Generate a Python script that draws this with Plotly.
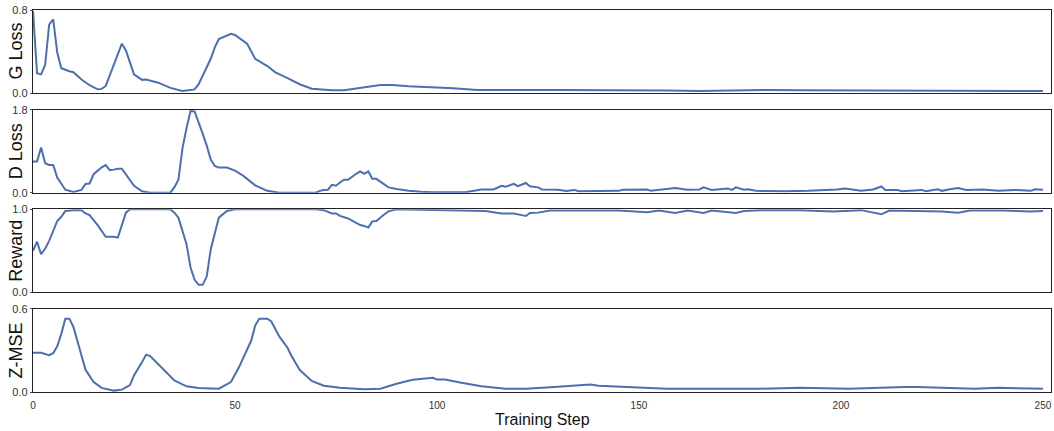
import plotly.graph_objects as go
from plotly.subplots import make_subplots

# ---------------- data ----------------
g_steps = [0, 1, 2, 3, 4, 5, 6, 7, 9, 10, 12, 14, 16, 17, 18, 20, 22, 23, 25, 27,
           28, 31, 34, 37, 40, 41, 44, 45, 46, 49, 50, 53, 55, 58, 60, 63, 66, 69, 74, 77,
           80, 83, 86, 89, 93, 97, 99, 104, 110, 117, 124, 130, 138, 148, 157, 165, 173, 182, 190, 200,
           210, 220, 230, 240, 250]
g_loss = [0.79, 0.19, 0.18, 0.27, 0.66, 0.71, 0.39, 0.24, 0.21, 0.20, 0.13, 0.075, 0.036, 0.04, 0.068, 0.28, 0.475, 0.41, 0.18, 0.127,
          0.13, 0.10, 0.05, 0.02, 0.035, 0.085, 0.33, 0.44, 0.52, 0.57, 0.56, 0.475, 0.33, 0.26, 0.20, 0.143, 0.085, 0.042, 0.026, 0.026,
          0.04, 0.06, 0.078, 0.078, 0.065, 0.058, 0.058, 0.045, 0.029, 0.026, 0.03, 0.03, 0.03, 0.026, 0.025, 0.02, 0.025, 0.03, 0.027, 0.026,
          0.024, 0.024, 0.022, 0.022, 0.02]

d_steps = [0, 1, 2, 3, 4, 5, 6, 8, 10, 11, 12, 13, 14, 15, 16, 17, 18, 19, 20, 21,
           22, 23, 25, 27, 29, 34, 35, 36, 37, 38, 39, 40, 41, 42, 43, 44, 45, 46, 48, 50,
           52, 55, 58, 61, 70, 71, 72, 73, 74, 75, 76, 77, 78, 79, 80, 81, 82, 83, 84, 85,
           87, 88, 90, 93, 96, 99, 107, 109, 111, 114, 116, 117, 119, 120, 122, 123, 125, 126, 130, 132,
           134, 135, 140, 145, 146, 152, 153, 155, 159, 162, 165, 166, 168, 172, 173, 174, 176, 177, 179, 186,
           192, 199, 201, 205, 208, 210, 211, 214, 215, 220, 221, 224, 225, 227, 229, 231, 235, 239, 243, 247,
           248, 250]
d_loss = [0.675, 0.675, 0.98, 0.64, 0.60, 0.60, 0.33, 0.065, 0.015, 0.03, 0.06, 0.19, 0.20, 0.40, 0.48, 0.55, 0.60, 0.49, 0.50, 0.52,
          0.52, 0.40, 0.15, 0.03, 0.0, 0.0, 0.12, 0.28, 0.96, 1.40, 1.77, 1.76, 1.54, 1.28, 1.02, 0.72, 0.58, 0.545, 0.545, 0.48,
          0.37, 0.16, 0.04, 0.0, 0.0, 0.04, 0.06, 0.065, 0.17, 0.15, 0.22, 0.28, 0.28, 0.35, 0.41, 0.46, 0.41, 0.46, 0.30, 0.30,
          0.17, 0.115, 0.08, 0.04, 0.02, 0.01, 0.01, 0.04, 0.07, 0.07, 0.15, 0.13, 0.19, 0.14, 0.21, 0.14, 0.115, 0.07, 0.065, 0.035,
          0.06, 0.03, 0.04, 0.04, 0.065, 0.07, 0.04, 0.065, 0.10, 0.065, 0.07, 0.115, 0.06, 0.09, 0.06, 0.115, 0.065, 0.075, 0.04, 0.03,
          0.04, 0.07, 0.09, 0.04, 0.07, 0.135, 0.06, 0.06, 0.03, 0.06, 0.03, 0.075, 0.04, 0.075, 0.10, 0.06, 0.07, 0.04, 0.06, 0.04,
          0.075, 0.065]

r_steps = [0, 1, 2, 3, 4, 5, 6, 7, 8, 10, 12, 13, 14, 16, 18, 20, 21, 23, 24, 34,
           35, 36, 38, 39, 40, 41, 42, 43, 44, 46, 48, 50, 70, 72, 73, 74, 75, 76, 78, 80,
           81, 82, 83, 84, 85, 87, 88, 90, 109, 112, 116, 119, 121, 122, 123, 125, 128, 132, 134, 145,
           152, 155, 159, 162, 166, 168, 172, 174, 176, 180, 190, 198, 205, 210, 212, 220, 225, 229, 232, 240,
           247, 250]
reward = [0.50, 0.61, 0.46, 0.525, 0.62, 0.74, 0.86, 0.91, 0.98, 0.99, 0.99, 0.95, 0.93, 0.81, 0.67, 0.67, 0.66, 0.96, 1.0, 1.0,
          0.96, 0.90, 0.58, 0.30, 0.15, 0.09, 0.09, 0.19, 0.52, 0.90, 0.98, 1.0, 1.0, 0.99, 0.97, 0.95, 0.95, 0.92, 0.89, 0.84,
          0.81, 0.80, 0.78, 0.855, 0.86, 0.94, 0.975, 1.0, 0.99, 0.98, 0.95, 0.95, 0.93, 0.92, 0.955, 0.96, 0.985, 0.99, 0.985, 0.985,
          0.965, 0.985, 0.955, 0.985, 0.955, 0.985, 0.96, 0.955, 0.98, 0.99, 0.99, 0.975, 0.99, 0.94, 0.985, 0.98, 0.975, 0.96, 0.985, 0.985,
          0.975, 0.98]

z_steps = [0, 2, 4, 5, 6, 7, 8, 9, 10, 11, 12, 13, 15, 17, 20, 22, 24, 25, 27, 28,
           29, 32, 35, 38, 41, 46, 49, 51, 54, 55, 56, 58, 59, 61, 63, 64, 66, 69, 72, 76,
           82, 86, 90, 94, 99, 100, 102, 106, 111, 117, 122, 129, 134, 138, 140, 147, 149, 157, 165, 180,
           190, 202, 216, 219, 233, 239, 250]
z_mse = [0.283, 0.283, 0.266, 0.28, 0.33, 0.42, 0.53, 0.53, 0.47, 0.36, 0.25, 0.16, 0.072, 0.03, 0.01, 0.017, 0.05, 0.12, 0.216, 0.27,
         0.26, 0.17, 0.084, 0.041, 0.029, 0.024, 0.072, 0.18, 0.37, 0.48, 0.53, 0.53, 0.51, 0.40, 0.32, 0.26, 0.16, 0.08, 0.045, 0.03,
         0.019, 0.024, 0.06, 0.089, 0.103, 0.09, 0.09, 0.067, 0.041, 0.024, 0.024, 0.036, 0.048, 0.055, 0.045, 0.036, 0.031, 0.024, 0.024, 0.024,
         0.03, 0.024, 0.036, 0.036, 0.024, 0.03, 0.024]

panel_titles = ["G Loss", "D Loss", "Reward", "Z-MSE"]
panel_max = [0.8, 1.8, 1.0, 0.6]
panel_ticktext = [["0.0", "0.8"], ["0.0", "1.8"], ["0.0", "1.0"], ["0.0", "0.6"]]
x_ticks = [0, 50, 100, 150, 200, 250]
x_title = "Training Step"

# ---------------- figure ----------------
LINE = "#4a6fb5"
FONT = "Liberation Sans, Arial, sans-serif"
fig = make_subplots(rows=4, cols=1, shared_xaxes=True, vertical_spacing=0.0435)

series = [(g_steps, g_loss), (d_steps, d_loss), (r_steps, reward), (z_steps, z_mse)]
for i, (xs, ys) in enumerate(series, start=1):
    fig.add_trace(go.Scatter(x=xs, y=ys, mode="lines",
                             line=dict(color=LINE, width=2), showlegend=False),
                  row=i, col=1)
    fig.update_yaxes(range=[0, panel_max[i - 1]],
                     tickvals=[0, panel_max[i - 1]],
                     ticktext=panel_ticktext[i - 1],
                     tickfont=dict(size=11, color="#333", family=FONT),
                     ticks="outside", ticklen=2, tickcolor="#555",
                     showgrid=False, zeroline=False, automargin=False,
                     showline=True, mirror=True, linecolor="#222", linewidth=1.3,
                     row=i, col=1)
    fig.update_xaxes(range=[0, 252], showgrid=False, zeroline=False, automargin=False,
                     showline=True, mirror=True, linecolor="#222", linewidth=1.3,
                     tickvals=x_ticks, ticks="", showticklabels=(i == 4),
                     ticklabelstandoff=4,
                     tickfont=dict(size=10, color="#333", family=FONT),
                     row=i, col=1)

# y-axis titles as rotated annotations placed beside each panel
for i, title in enumerate(panel_titles, start=1):
    yref = "y domain" if i == 1 else f"y{i} domain"
    fig.add_annotation(text=title, xref="paper", x=0, xshift=-17, xanchor="center",
                       yref=yref, y=0.5, yanchor="middle", textangle=-90,
                       showarrow=False,
                       font=dict(size=18, color="#111", family=FONT))

fig.add_annotation(text=x_title, xref="paper", x=0.5, xanchor="center",
                   yref="paper", y=0, yshift=-27, yanchor="middle",
                   showarrow=False, font=dict(size=16, color="#111", family=FONT))

fig.update_layout(width=1054, height=431,
                  margin=dict(l=33, r=3, t=10, b=39),
                  plot_bgcolor="white", paper_bgcolor="white")

fig.write_html("out.html", config={"displayModeBar": False},
               post_script="document.body.style.margin='0';document.body.style.overflow='hidden';")
